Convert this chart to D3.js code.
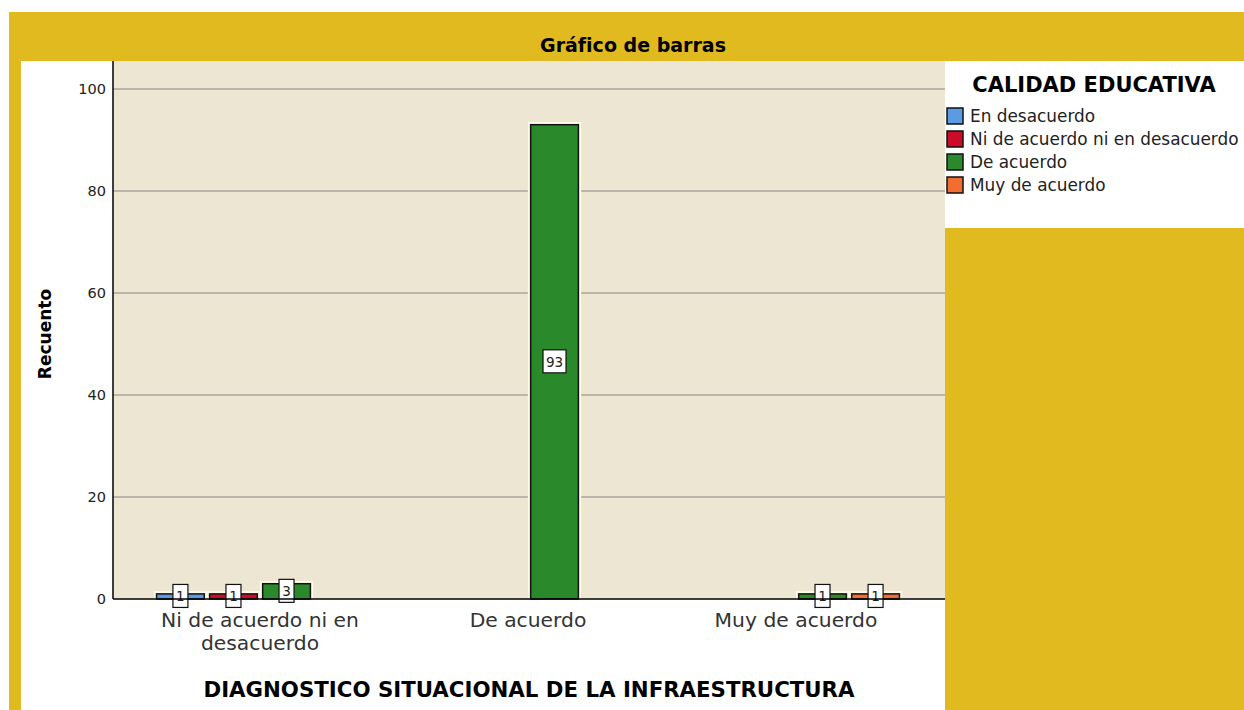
<!DOCTYPE html>
<html lang="es">
<head>
<meta charset="UTF-8">
<title>Gráfico de barras</title>
<script src="https://d3js.org/d3.v7.min.js"></script>
<style>
  body { margin: 0; background: #fff; }
  text { font-family: "DejaVu Sans", Verdana, sans-serif; }
</style>
</head>
<body>
<div id="chart"></div>
<script>
// categories on x axis
const categories = ["Ni de acuerdo ni en desacuerdo", "De acuerdo", "Muy de acuerdo"];
const categoryLines = [["Ni de acuerdo ni en", "desacuerdo"], ["De acuerdo"], ["Muy de acuerdo"]];
// legend series
const series = ["En desacuerdo", "Ni de acuerdo ni en desacuerdo", "De acuerdo", "Muy de acuerdo"];
const seriesColors = ["#5b9be3", "#cc0a2a", "#2a892a", "#f26d30"];
// counts per category, one row per category in series order
const countsNi = [1, 1, 3, 0];
const countsDe = [0, 0, 93, 0];
const countsMuy = [0, 0, 1, 1];
const counts = [countsNi, countsDe, countsMuy];
const yTicks = [0, 20, 40, 60, 80, 100];

const W = 1244, H = 710;
const svg = d3.select("#chart").append("svg").attr("width", W).attr("height", H);

// gold frame
svg.append("rect").attr("x", 9).attr("y", 12).attr("width", W - 9).attr("height", H - 12).attr("fill", "#e0ba1e");
svg.append("text").attr("x", 633).attr("y", 52).attr("text-anchor", "middle")
  .style("font-size", "19px").style("font-weight", "bold").text("Gráfico de barras");

// white panels
svg.append("rect").attr("x", 21).attr("y", 61).attr("width", 924).attr("height", H - 61).attr("fill", "#fff");
svg.append("rect").attr("x", 945).attr("y", 61).attr("width", W - 945).attr("height", 167).attr("fill", "#fff");

const plotL = 113, plotR = 945, plotT = 61, plotB = 599;
svg.append("rect").attr("x", plotL).attr("y", plotT).attr("width", plotR - plotL).attr("height", plotB - plotT).attr("fill", "#ece6d2");

const y = d3.scaleLinear().domain([0, 100]).range([plotB, 89]);
const x0 = d3.scaleBand().domain(categories).range([126, 930]).paddingInner(0.228).paddingOuter(0.114);
const x1 = d3.scaleBand().domain(series).range([0, x0.bandwidth()]).paddingInner(0.1);

// grid lines
svg.append("g").selectAll("line").data(yTicks.filter(d => d > 0)).join("line")
  .attr("x1", plotL).attr("x2", plotR).attr("y1", d => y(d)).attr("y2", d => y(d))
  .attr("stroke", "#aaa79c").attr("stroke-width", 1.5);

// y axis
const yAxis = svg.append("g").attr("transform", `translate(${plotL},0)`)
  .call(d3.axisLeft(y).tickValues(yTicks).tickSize(0).tickPadding(7));
yAxis.select(".domain").remove();
yAxis.selectAll("text").style("font-size", "14.5px").style("font-family", "'DejaVu Sans', sans-serif").attr("fill", "#222");
svg.append("line").attr("x1", plotL).attr("x2", plotL).attr("y1", plotT).attr("y2", plotB).attr("stroke", "#000").attr("stroke-width", 1.5);

svg.append("text").attr("transform", "translate(51,334) rotate(-90)").attr("text-anchor", "middle")
  .style("font-size", "17px").style("font-weight", "bold").text("Recuento");

// bars
const groups = svg.append("g").selectAll("g").data(categories).join("g")
  .attr("transform", d => `translate(${x0(d)},0)`);
const barData = (c, i) => series.map((s, j) => ({ s, j, v: counts[i][j] })).filter(d => d.v > 0);
const bars = groups.selectAll("g.bar").data(barData).join("g").attr("class", "bar");
bars.append("rect")
  .attr("x", d => x1(d.s) - 1.5).attr("y", d => y(d.v) - 1.5)
  .attr("width", x1.bandwidth() + 3).attr("height", d => plotB - y(d.v) + 1.5)
  .attr("fill", "none").attr("stroke", "#fffbe8").attr("stroke-width", 2.5);
bars.append("rect")
  .attr("x", d => x1(d.s)).attr("y", d => y(d.v))
  .attr("width", x1.bandwidth()).attr("height", d => plotB - y(d.v))
  .attr("fill", d => seriesColors[d.j]).attr("stroke", "#111").attr("stroke-width", 1.5);

// value labels
bars.each(function (d) {
  const g = d3.select(this);
  const cx = x1(d.s) + x1.bandwidth() / 2;
  const cy = (y(d.v) + plotB) / 2;
  const t = String(d.v);
  const bw = t.length * 8 + 7;
  g.append("rect").attr("x", cx - bw / 2).attr("y", cy - 12).attr("width", bw).attr("height", 23)
    .attr("fill", "#fff").attr("stroke", "#111").attr("stroke-width", 1.2);
  g.append("text").attr("x", cx).attr("y", cy + 5).attr("text-anchor", "middle")
    .style("font-size", "13.5px").attr("fill", "#222").text(t);
});

// x axis line
svg.append("line").attr("x1", plotL).attr("x2", plotR).attr("y1", plotB).attr("y2", plotB).attr("stroke", "#000").attr("stroke-width", 1.5);

// category labels
svg.append("g").selectAll("text").data(categories).join("text")
  .attr("x", d => x0(d) + x0.bandwidth() / 2).attr("y", 627).attr("text-anchor", "middle")
  .style("font-size", "20.3px").attr("fill", "#333")
  .each(function (d, i) {
    d3.select(this).selectAll("tspan").data(categoryLines[i]).join("tspan")
      .attr("x", x0(d) + x0.bandwidth() / 2).attr("dy", (l, k) => k === 0 ? 0 : 23).text(l => l);
  });

svg.append("text").attr("x", 529).attr("y", 697).attr("text-anchor", "middle")
  .style("font-size", "21.3px").style("font-weight", "bold").text("DIAGNOSTICO SITUACIONAL DE LA INFRAESTRUCTURA");

// legend
svg.append("text").attr("x", 1094).attr("y", 92).attr("text-anchor", "middle")
  .style("font-size", "21px").style("font-weight", "bold").text("CALIDAD EDUCATIVA");
const leg = svg.append("g").selectAll("g").data(series).join("g")
  .attr("transform", (d, i) => `translate(947,${108 + i * 23})`);
leg.append("rect").attr("width", 16).attr("height", 16).attr("fill", (d, i) => seriesColors[i])
  .attr("stroke", "#111").attr("stroke-width", 1.5);
leg.append("text").attr("x", 23).attr("y", 14).style("font-size", "16.9px").attr("fill", "#222").text(d => d);
</script>
</body>
</html>
